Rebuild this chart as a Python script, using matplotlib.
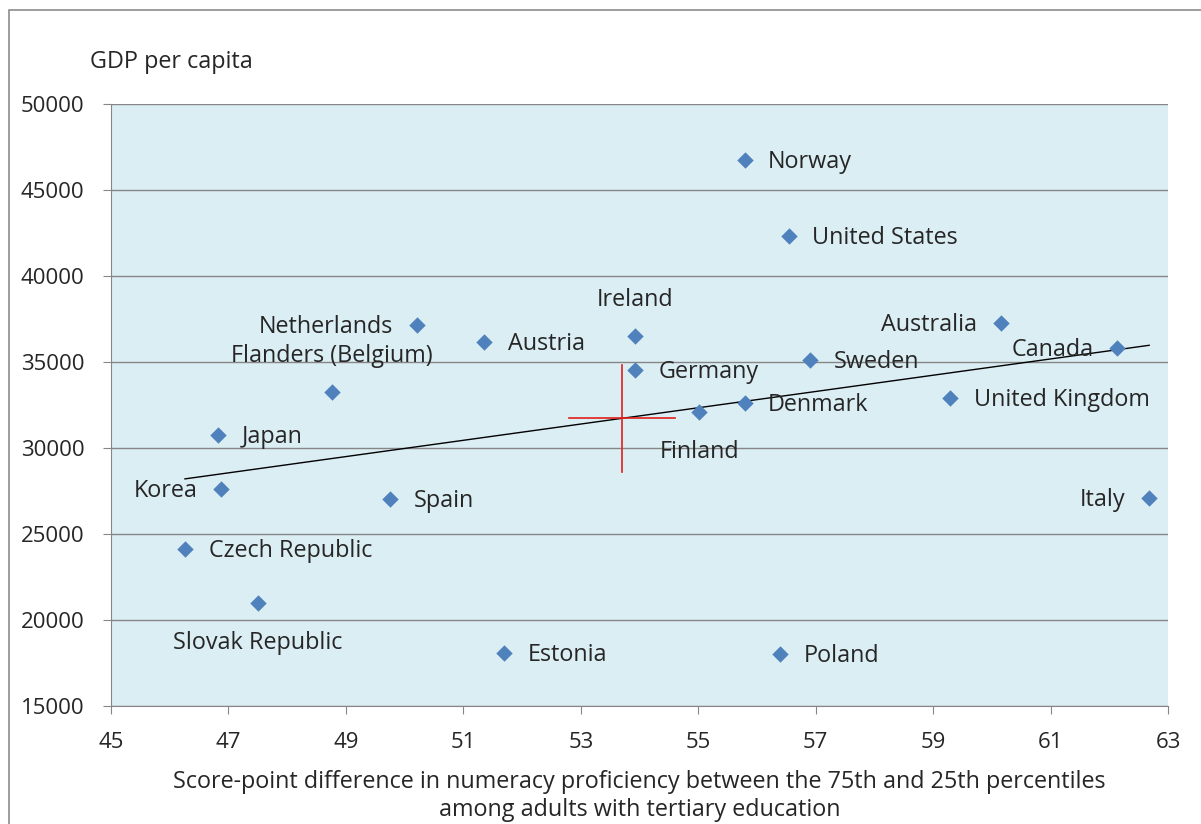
import matplotlib
matplotlib.use("Agg")
import matplotlib.pyplot as plt
from matplotlib.patches import Rectangle
import numpy as np

plt.rcParams['font.family'] = ['Open Sans', 'DejaVu Sans']

countries = ['Norway', 'United States', 'Ireland', 'Netherlands', 'Austria', 'Germany',
             'Australia', 'Canada', 'Sweden', 'Flanders (Belgium)', 'Denmark',
             'United Kingdom', 'Finland', 'Japan', 'Korea', 'Spain', 'Italy',
             'Czech Republic', 'Slovak Republic', 'Estonia', 'Poland']
score_diff = [55.79, 56.54, 53.92, 50.21, 51.36, 53.92,
              60.15, 62.13, 56.91, 48.76, 55.79,
              59.29, 55.02, 46.83, 46.88, 49.75, 62.68,
              46.26, 47.50, 51.70, 56.40]
gdp = [46740, 42330, 36510, 37150, 36160, 34540,
       37270, 35810, 35120, 33260, 32620,
       32910, 32090, 30760, 27620, 27040, 27090,
       24130, 20990, 18080, 18020]
# where each label sits relative to its marker
label_side = ['right', 'right', 'above', 'left', 'right', 'right',
              'left', 'left', 'right', 'above', 'right',
              'right', 'below', 'right', 'left', 'right', 'left',
              'right', 'below', 'right', 'right']

x = np.array(score_diff)
y = np.array(gdp)

fig = plt.figure(figsize=(12.01, 8.24), dpi=100)
fig.patches.append(Rectangle((0.0075, -0.01), 1.1, 0.998, transform=fig.transFigure,
                             fill=False, edgecolor='#8c8c8c', linewidth=1.2))
ax = fig.add_axes([0.0924, 0.1432, 0.8801, 0.7306])
ax.set_facecolor('#dbeef4')

ax.set_xlim(45, 63)
ax.set_ylim(15000, 50000)
ax.set_xticks(np.arange(45, 64, 2))
ax.set_yticks(np.arange(15000, 50001, 5000))
ax.yaxis.grid(True, color='#868686', linewidth=1.0)
ax.set_axisbelow(True)
for s in ['top', 'right']:
    ax.spines[s].set_visible(False)
for s in ['left', 'bottom']:
    ax.spines[s].set_color('#868686')
ax.tick_params(axis='both', colors='#868686', labelcolor='#262626', labelsize=16,
               length=6, direction='out')
ax.tick_params(axis='x', pad=13)
ax.tick_params(axis='y', pad=13)

# trend line
slope, inter = np.polyfit(x, y, 1)
xs = np.array([x.min(), x.max()])
ax.plot(xs, slope * xs + inter, color='black', linewidth=1.0, zorder=2)

# average cross
mx, my = x.mean(), y.mean()
ax.plot([mx - 0.9, mx + 0.9], [my, my], color='#e0201a', linewidth=1.2, zorder=2)
ax.plot([mx, mx], [my - 3100, my + 3100], color='#e0201a', linewidth=1.2, zorder=2)

ax.scatter(x, y, marker='D', s=70, color='#4f81bd', zorder=3, linewidths=0)

offsets = {'right': ((17, -1.5), 'left', 'center'),
           'left': ((-17, -1.5), 'right', 'center'),
           'above': ((0, 26), 'center', 'center'),
           'below': ((0, -29), 'center', 'center')}
for cx, cy, name, side in zip(x, y, countries, label_side):
    (dx, dy), ha, va = offsets[side]
    ax.annotate(name, (cx, cy), xytext=(dx, dy), textcoords='offset points',
                ha=ha, va=va, fontsize=16.8, color='#262626')

fig.text(0.0749, 0.925, 'GDP per capita', fontsize=16.8, color='#262626', va='center')
ax.set_xlabel('Score-point difference in numeracy proficiency between the 75th and 25th percentiles\namong adults with tertiary education',
              fontsize=16.8, color='#262626', labelpad=12, linespacing=1.22)

fig.savefig('out.png', dpi=100)
